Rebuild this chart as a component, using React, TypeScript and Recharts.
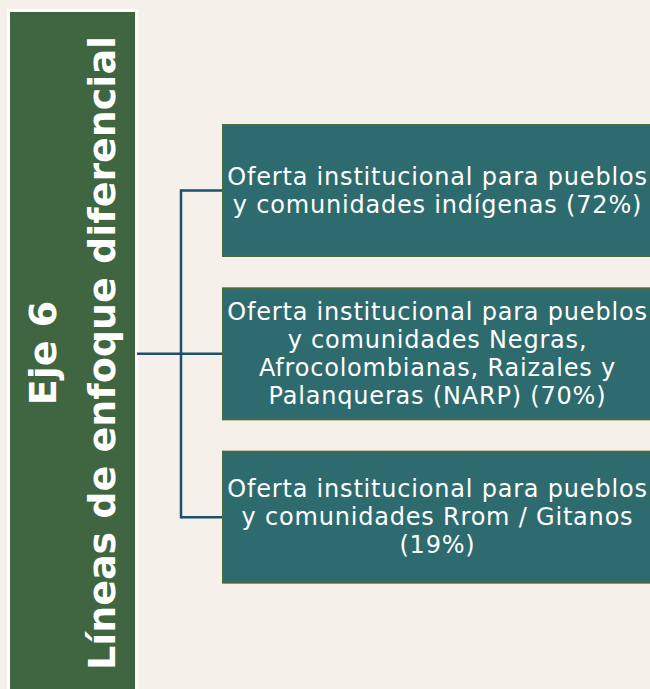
import { ComposedChart, Bar, XAxis, YAxis, Customized } from 'recharts'

// Eje 6 - three lines of the "enfoque diferencial" axis
const categories = ['Indígenas', 'NARP', 'Rrom']
const shares = [72, 70, 19]
// text lines shown in each box, {p} is replaced by the share
const labelLines = [
    ['Oferta institucional para pueblos', 'y comunidades indígenas ({p}%)'],
    ['Oferta institucional para pueblos', 'y comunidades Negras,', 'Afrocolombianas, Raizales y', 'Palanqueras (NARP) ({p}%)'],
    ['Oferta institucional para pueblos', 'y comunidades Rrom / Gitanos', '({p}%)'],
]
const titleLines = ['Eje 6', 'Líneas de enfoque diferencial']

const W = 650
const H = 689
const MARGIN = { top: 109, right: 0, bottom: 90, left: 222 }
const PLOT_H = H - MARGIN.top - MARGIN.bottom
const BOX_H = 131
const PANEL_RIGHT = 137
const TRUNK_X = 181

const BG = '#F5F0EA'
const PANEL = '#3F6640'
const BOX = '#2E6B6E'
const BOX_EDGE = '#4A6A40'
const LINK = '#1D4F6F'

const data = categories.map((name, i) => ({
    name,
    pct: shares[i],
    lines: labelLines[i].map((l) => l.replace('{p}', String(shares[i]))),
}))

const BoxShape = (props: any) => {
    const { y, height, background, index, payload } = props
    const band = PLOT_H / data.length
    const cy = y + height / 2
    const lines: string[] = payload.lines
    const cx = background.x + background.width / 2 + 1.5
    const lh = 28
    return (
        <g>
            {/* stub to the box */}
            <line x1={TRUNK_X} x2={background.x + 1} y1={cy} y2={cy} stroke={LINK} strokeWidth={2.5} />
            {index < data.length - 1 && (
                <line x1={TRUNK_X} x2={TRUNK_X} y1={cy - 1.25} y2={cy + band + 1.25} stroke={LINK} strokeWidth={2.5} />
            )}
            {index === Math.floor(data.length / 2) && (
                <line x1={PANEL_RIGHT} x2={TRUNK_X} y1={cy} y2={cy} stroke={LINK} strokeWidth={2.5} />
            )}
            <rect
                x={background.x + 1}
                y={y}
                width={background.width + 10}
                height={height}
                fill={BOX}
                stroke={BOX_EDGE}
                strokeWidth={2}
            />
            {lines.map((l, i) => (
                <text
                    key={i}
                    x={cx}
                    y={cy + (i - (lines.length - 1) / 2) * lh + 8}
                    textAnchor="middle"
                    fill="#FFFFFF"
                    fontFamily="DejaVu Sans, Verdana, sans-serif"
                    fontSize={24}
                    letterSpacing={0.8}
                >
                    {l}
                </text>
            ))}
        </g>
    )
}

const LeftPanel = () => {
    const cy = 353
    return (
        <g>
            <rect x={8.5} y={10.5} width={128} height={700} fill={PANEL} stroke="#FFFFFF" strokeWidth={3} />
            <text
                x={56}
                y={cy}
                transform={`rotate(-90 56 ${cy})`}
                textAnchor="middle"
                fill="#FFFFFF"
                fontFamily="DejaVu Sans, Verdana, sans-serif"
                fontWeight="bold"
                fontSize={38}
            >
                {titleLines[0]}
            </text>
            <text
                x={115}
                y={cy}
                transform={`rotate(-90 115 ${cy})`}
                textAnchor="middle"
                fill="#FFFFFF"
                fontFamily="DejaVu Sans, Verdana, sans-serif"
                fontWeight="bold"
                fontSize={38}
                textLength={634}
                lengthAdjust="spacingAndGlyphs"
            >
                {titleLines[1]}
            </text>
        </g>
    )
}

export default function App() {
    return (
        <div style={{ position: 'absolute', left: 0, top: 0, width: W, height: H, background: BG, overflow: 'hidden' }}>
            <ComposedChart width={W} height={H} data={data} layout="vertical" margin={MARGIN}>
                <XAxis type="number" domain={[0, 100]} hide />
                <YAxis type="category" dataKey="name" hide />
                <Customized component={LeftPanel} />
                <Bar dataKey="pct" barSize={BOX_H} shape={BoxShape} isAnimationActive={false} />
            </ComposedChart>
        </div>
    )
}
